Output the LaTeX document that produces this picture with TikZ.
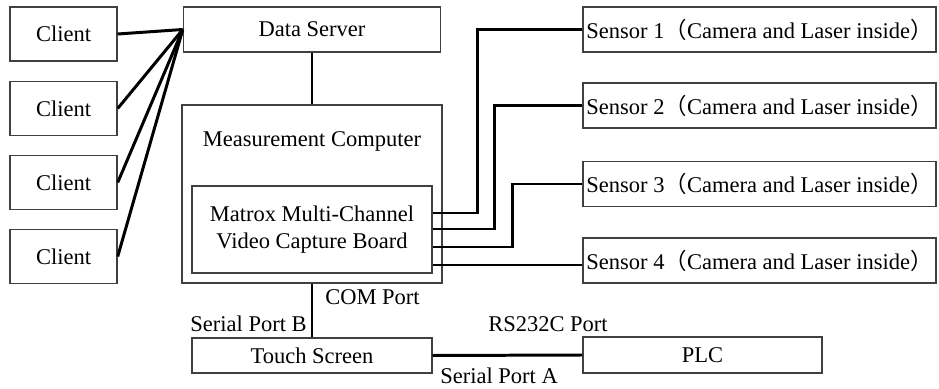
\documentclass[tikz,border=0pt]{standalone}
\usepackage{fontspec}
\setmainfont{Liberation Serif}
\newfontfamily\cjk{Noto Sans CJK SC}
\begin{document}
\begin{tikzpicture}[
  box/.style={draw=black!75, line width=0.8pt, inner sep=0pt},
  link/.style={line width=1.7pt},
  lbl/.style={inner sep=0pt},
  font=\fontsize{12.8}{15.4}\selectfont]
\useasboundingbox (0,0) rectangle (18.78,7.76);
\foreach \y/\n in {7.08/1,5.59/2,4.11/3,2.63/4}
\node[box, minimum width=2.14cm, minimum height=1.08cm] (c\n) at (1.27,\y) {Client};
\node[box, minimum width=5.14cm, minimum height=0.9cm] (ds) at (6.24,7.17) {Data Server};
\node[box, minimum width=5.2cm, minimum height=3.56cm] (mc) at (6.24,3.88) {};
\node[lbl, anchor=base] (mctext) at (6.24,4.82) {Measurement Computer};
\node[box, minimum width=4.8cm, minimum height=1.74cm, align=center] (mx) at (6.24,3.17) {Matrox Multi-Channel\\Video Capture Board};
\foreach \y/\n in {7.17/1,5.65/2,4.08/3,2.55/4}
\node[box, minimum width=7.06cm, minimum height=0.9cm] (s\n) at (15.19,\y) {Sensor \n{\cjk（}Camera and Laser inside{\cjk）}};
\node[box, minimum width=4.8cm, minimum height=0.7cm] (ts) at (6.24,0.65) {Touch Screen};
\node[box, minimum width=4.78cm, minimum height=0.72cm] (plc) at (14.05,0.66) {PLC};
\foreach \n in {1,...,4}
\draw[link] (c\n.east) -- (ds.west);
\draw[link] (ds.south) -- (mc.north);
\draw[link] (mc.south) -- (ts.north);
\draw[link] (ts.east) -- (plc.west);
\foreach \d/\x/\n in {0.33/0.9/1,0.01/1.24/2,-0.35/1.6/3}
\draw[link] ([yshift=\d cm]mx.east) -- ++(\x,0) |- (s\n.west);
\coordinate (p4) at ([yshift=-0.71cm]mx.east);
\draw[link] (p4) -- (p4 -| s4.west);
\node[lbl, anchor=base west] (com) at (6.5,1.66) {COM Port};
\node[lbl, anchor=base east] (spb) at (6.14,1.14) {Serial Port B};
\node[lbl, anchor=base west] (rs) at (9.76,1.14) {RS232C Port};
\node[lbl, anchor=base west] (spa) at (8.8,0.08) {Serial Port A};
\end{tikzpicture}
\end{document}
